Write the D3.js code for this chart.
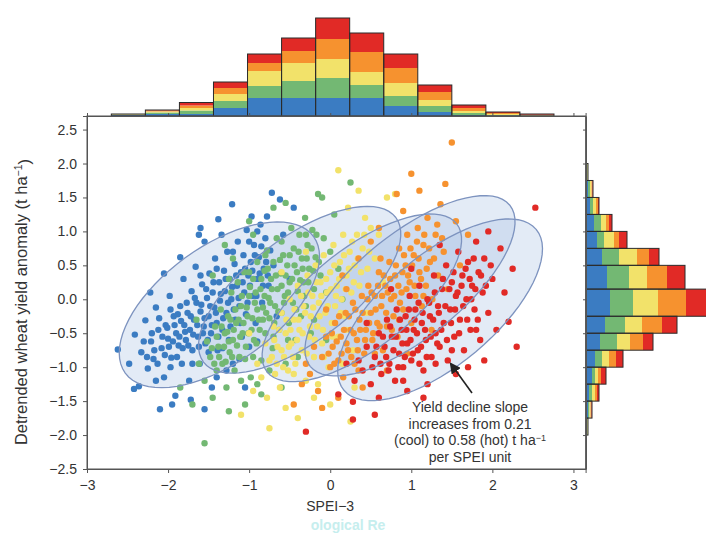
<!DOCTYPE html>
<html lang="en">
<head>
<meta charset="UTF-8">
<script src="https://d3js.org/d3.v7.min.js"></script>
<title>SPEI vs yield</title>
<style>
  body { margin: 0; background: #fff; }
  svg text { font-family: "Liberation Sans", Arial, sans-serif; fill: #333; }
  .axis path, .axis line { stroke: #555; }
  .axis text { font-size: 14px; fill: #333; }
</style>
</head>
<body>
<div id="container"></div>
<script>
// ---- data ----
const xTicks = [-3, -2, -1, 0, 1, 2, 3];
const yTicks = [-2.5, -2, -1.5, -1, -0.5, 0, 0.5, 1, 1.5, 2, 2.5];
const groupKeys = ["blue", "green", "yellow", "orange", "red"];
const groupColors = ["#3b7cc2", "#73b873", "#f2e26a", "#f6922f", "#e12a26"];

// top histogram (SPEI bins), counts per group: blue, green, yellow, orange, red
const topEdges = [-2.7, -2.28, -1.86, -1.44, -1.02, -0.6, -0.18, 0.24, 0.66, 1.08, 1.5, 1.92, 2.34, 2.76];
const topCounts = [
  [1, 0.5, 0.3, 0.2, 0], [2, 1.5, 1, 1, 0.5], [2, 3.5, 2.5, 2.5, 3], [8, 7, 7, 6, 6],
  [18, 12, 15, 8, 9], [18, 17, 18, 12, 13], [18, 20, 19, 20, 21], [18, 13, 13, 20, 19],
  [10, 10, 13, 15, 14], [4, 6, 6, 8, 7], [1, 2, 2, 3, 3], [0.5, 0.5, 1, 1, 1], [0, 0.3, 0.5, 0.5, 0.7]
];

// right histogram (yield bins, top to bottom)
const rightEdges = [2.0, 1.75, 1.5, 1.25, 1.0, 0.75, 0.5, 0.15, -0.25, -0.5, -0.75, -1.0, -1.25, -1.5, -1.75, -2.0];
const rightCounts = [
  [1, 0.5, 0.5, 0, 0], [2, 2, 1.5, 1, 0.5], [4, 3, 3, 2, 1], [8, 7, 5, 3, 3], [11, 7, 10, 5, 8],
  [16, 17, 18, 12, 10], [21, 22, 18, 20, 18], [24, 23, 25, 28, 22], [19, 20, 17, 20, 15],
  [14, 17, 13, 13, 10], [9, 7, 7, 7, 7], [6, 3, 3, 3, 5], [3, 3, 3, 2, 2], [2, 1.5, 1, 1, 0.5], [1, 0.5, 0.5, 0, 0]
];

// confidence ellipses: centre (SPEI, yield), major half-axis vector, minor half-axis vector
const ellipses = [
  { c: [-1.367, -0.081], a: [1.161, 1.006], b: [0.422, -0.692] },
  { c: [-0.377, 0.140], a: [1.186, 1.065], b: [0.387, -0.612] },
  { c: [0.390, 0.022], a: [1.170, 1.090], b: [0.381, -0.581] },
  { c: [0.984, 0.199], a: [1.231, 1.187], b: [0.405, -0.596] },
  { c: [1.355, -0.155], a: [1.185, 1.186], b: [0.438, -0.621] }
];

// scatter points [SPEI, yield anomaly]
const bluePts = [[-2.62,-0.74],[-2.48,-0.95],[-2.41,-0.52],[-2.36,-1.28],[-2.33,-0.78],[-2.28,-0.31],[-2.25,-1.02],[-2.21,-0.62],[-2.18,-0.88],[-2.15,-0.12],[-2.12,-0.45],[-2.1,-1.62],[-2.08,-0.72],[-2.05,-1.15],[-2.03,-0.38],[-2.0,-0.58],[-1.98,0.05],[-1.96,-0.86],[-1.93,-0.25],[-1.91,-1.42],[-1.9,-0.5],[-1.87,-0.68],[-1.85,-0.1],[-1.83,-0.95],[-1.81,0.3],[-1.8,-0.38],[-1.78,-0.6],[-1.76,-0.2],[-1.74,-1.2],[-1.73,-0.45],[-1.71,0.12],[-1.7,-0.75],[-1.68,-0.3],[-1.66,0.48],[-1.65,-0.05],[-1.63,-0.55],[-1.61,-0.95],[-1.6,-0.18],[-1.58,0.22],[-1.56,-0.4],[-1.55,0.85],[-1.54,-0.65],[-1.52,0.02],[-1.5,-0.25],[-1.49,0.38],[-1.47,-0.5],[-1.46,-1.3],[-1.45,0.1],[-1.43,-0.12],[-1.42,0.6],[-1.4,-0.35],[-1.39,-0.75],[-1.37,0.25],[-1.36,-0.02],[-1.34,0.95],[-1.33,-0.45],[-1.31,0.42],[-1.3,0.12],[-1.28,-0.2],[-1.27,0.7],[-1.25,-0.6],[-1.24,0.3],[-1.22,0.0],[-1.21,1.4],[-1.2,-0.95],[-1.18,0.52],[-1.17,-0.3],[-1.15,0.2],[-1.14,0.85],[-1.12,-0.1],[-1.1,0.4],[-1.09,-0.55],[-1.07,0.65],[-1.06,0.1],[-1.04,-0.22],[-1.03,1.02],[-1.01,0.35],[-1.0,-0.7],[-0.98,0.55],[-0.97,1.22],[-0.95,0.05],[-0.94,0.8],[-0.92,-0.35],[-0.9,0.3],[-0.88,0.62],[-0.86,1.1],[-0.84,-0.05],[-0.82,0.45],[-0.8,0.9],[-0.78,1.22],[-0.76,0.2],[-0.74,0.72],[-0.72,1.57],[-0.7,0.5],[-0.66,-0.25],[-0.62,1.47],[-0.58,0.95],[-0.5,0.3],[-0.45,1.35],[-1.85,0.62],[-2.05,0.38],[-1.62,0.95],[-1.95,-1.55],[-1.72,-1.48],[-1.55,-1.62],[-2.42,-1.32],[-1.28,-1.05],[-1.12,-0.88],[-0.9,-0.62],[-2.22,0.1],[-1.4,-1.15],[-1.6,1.05],[-1.38,1.18],[-1.05,-1.3],
  [-2.3,-0.62],[-2.26,-0.85],[-2.2,-0.5],[-2.17,-0.75],[-2.13,-0.95],[-2.11,-0.28],[-2.07,-0.55],[-2.04,-0.82],[-2.01,-0.42],[-1.99,-0.7],[-1.97,-0.15],[-1.94,-0.62],[-1.92,-0.38],[-1.89,-0.85],[-1.88,-0.22],[-1.86,-0.55],[-1.84,-0.32],[-1.82,-0.72],[-1.79,-0.48],[-1.77,-0.05],[-1.75,-0.68],[-1.72,-0.25],[-1.69,-0.52],[-1.67,0.02],[-1.64,-0.38],[-1.62,-0.7],[-1.59,-0.08],[-1.57,-0.5],[-1.55,-0.28],[-1.53,0.15],[-1.51,-0.6],[-1.48,-0.1],[-1.46,-0.38],[-1.44,0.25],[-1.41,-0.2],[-1.38,-0.55],[-1.35,0.08],[-1.32,-0.28],[-1.29,0.3],[-1.26,-0.05],[-1.23,-0.4],[-1.21,0.18],[-1.19,-0.15],[-1.16,0.35],[-1.13,0.02],[-1.11,-0.35],[-1.08,0.25],[-1.05,0.45],[-1.02,-0.05],[-0.99,0.2],[-0.96,0.42],[-0.93,0.65],[-0.91,0.05],[-0.87,0.38],[-0.85,0.78],[-0.83,0.2],[-0.79,0.55],[-0.77,0.35],[-1.7,-0.95],[-1.5,-0.78],[-1.33,-0.72],[-1.97,-1.0],[-2.15,-1.2],[-1.2,0.7],[-1.4,0.45],[-1.6,0.35],[-1.0,0.85],[-0.9,1.0]];
const greenPts = [[-1.62,-0.95],[-1.55,-1.2],[-1.52,-0.62],[-1.48,-0.85],[-1.45,-1.45],[-1.42,-0.4],[-1.4,-1.05],[-1.38,-0.7],[-1.35,-0.15],[-1.33,-0.95],[-1.3,-0.5],[-1.28,-1.3],[-1.26,-0.25],[-1.24,-0.78],[-1.22,0.1],[-1.2,-0.6],[-1.18,-1.05],[-1.16,-0.35],[-1.14,0.25],[-1.12,-0.85],[-1.1,-0.1],[-1.08,-0.5],[-1.06,0.4],[-1.04,-0.7],[-1.02,-0.25],[-1.0,0.05],[-0.98,-1.15],[-0.97,-0.45],[-0.95,0.3],[-0.93,-0.05],[-0.91,-0.65],[-0.9,0.55],[-0.88,-0.3],[-0.86,0.15],[-0.85,-0.9],[-0.83,-0.12],[-0.81,0.42],[-0.8,-0.5],[-0.78,0.72],[-0.76,0.02],[-0.75,-0.28],[-0.73,0.3],[-0.71,-0.72],[-0.7,0.55],[-0.68,-0.1],[-0.66,0.9],[-0.65,0.15],[-0.63,-0.45],[-0.61,0.38],[-0.6,-0.2],[-0.58,0.65],[-0.56,0.05],[-0.55,-0.95],[-0.53,0.5],[-0.51,-0.35],[-0.5,0.25],[-0.48,1.05],[-0.46,-0.05],[-0.45,0.75],[-0.43,-0.6],[-0.41,0.4],[-0.4,0.12],[-0.38,0.95],[-0.36,-0.25],[-0.35,0.6],[-0.33,0.25],[-0.31,1.2],[-0.3,-0.1],[-0.28,0.8],[-0.26,0.45],[-0.24,-0.5],[-0.22,1.02],[-0.2,0.15],[-0.18,0.62],[-0.15,1.55],[-0.12,0.35],[-0.1,1.5],[-0.08,0.9],[-0.05,0.1],[0.0,0.7],[0.05,1.25],[0.1,0.45],[0.25,1.72],[-1.55,-2.12],[-1.25,-1.65],[-1.05,-1.55],[-0.85,-1.4],[-0.6,-1.3],[-1.7,-1.55],[-1.85,-1.3],[-1.45,0.35],[-1.2,0.6],[-0.95,0.95],[-0.7,1.35],[-0.55,1.42],[-1.65,-0.3],[-0.4,-0.85],[-0.2,-0.3],[-0.05,-0.6],[0.15,0.0],[-1.3,0.8],[-1.0,1.15],[-0.75,-1.05],[-0.9,-1.25],
  [-1.46,-0.72],[-1.43,-0.95],[-1.4,-0.55],[-1.37,-0.85],[-1.34,-0.4],[-1.31,-0.7],[-1.29,-0.92],[-1.27,-0.48],[-1.25,-0.62],[-1.23,-0.3],[-1.21,-0.85],[-1.19,-0.45],[-1.17,-0.15],[-1.15,-0.68],[-1.13,-0.3],[-1.11,-0.55],[-1.09,0.05],[-1.07,-0.35],[-1.05,-0.88],[-1.03,-0.12],[-1.01,-0.5],[-0.99,0.18],[-0.96,-0.28],[-0.94,-0.6],[-0.92,0.1],[-0.9,-0.15],[-0.87,-0.45],[-0.85,0.3],[-0.83,-0.3],[-0.81,0.05],[-0.79,-0.2],[-0.77,0.45],[-0.74,-0.05],[-0.72,0.15],[-0.69,-0.35],[-0.67,0.35],[-0.64,-0.18],[-0.62,0.58],[-0.6,0.2],[-0.57,-0.05],[-0.55,0.35],[-0.52,0.1],[-0.5,0.65],[-0.47,0.3],[-0.44,0.5],[-0.42,-0.15],[-0.39,0.7],[-0.37,0.28],[-0.34,0.45],[-0.32,0.05],[-0.29,0.6],[-0.27,0.25],[-0.23,0.75],[-0.21,0.42],[-0.17,0.95],[-0.14,0.55],[-0.95,-0.85],[-1.1,-1.2],[-0.7,-0.55],[-0.52,-0.6],[-0.3,0.95],[-0.6,0.85],[-0.8,0.65],[-1.0,0.4],[-1.25,0.3]];
const yellowPts = [[-0.95,-1.35],[-0.9,-0.95],[-0.85,-1.15],[-0.8,-0.65],[-0.78,-1.45],[-0.75,-0.9],[-0.7,-0.4],[-0.68,-1.1],[-0.65,-0.7],[-0.62,-1.3],[-0.6,-0.2],[-0.57,-0.85],[-0.55,-0.5],[-0.52,-1.05],[-0.5,0.0],[-0.48,-0.65],[-0.45,-0.3],[-0.43,-0.95],[-0.4,0.2],[-0.38,-0.45],[-0.35,-0.75],[-0.33,-0.1],[-0.3,-1.2],[-0.28,0.35],[-0.26,-0.55],[-0.24,-0.25],[-0.22,0.05],[-0.2,-0.85],[-0.18,0.5],[-0.16,-0.4],[-0.14,-0.05],[-0.12,0.25],[-0.1,-0.65],[-0.08,0.65],[-0.06,-0.2],[-0.04,0.1],[-0.02,-1.0],[0.0,0.4],[0.02,-0.35],[0.04,0.8],[0.06,-0.1],[0.08,0.2],[0.1,-0.55],[0.12,0.55],[0.14,0.0],[0.16,0.95],[0.18,-0.25],[0.2,0.35],[0.22,1.35],[0.24,0.7],[0.26,0.1],[0.28,-0.75],[0.3,0.5],[0.33,0.95],[0.36,0.2],[0.4,0.75],[0.43,1.2],[0.46,0.45],[0.5,1.05],[0.55,0.6],[0.6,0.95],[0.1,1.9],[0.7,1.5],[-0.4,-1.75],[-0.75,-1.9],[0.25,-1.8],[0.0,-1.55],[-0.2,-1.45],[-0.55,-1.6],[0.3,-1.3],[-1.1,-1.7],[-1.0,-0.5],[0.45,-0.2],[0.65,0.25],[-0.3,0.7],[-0.6,0.4],[0.8,1.55],[0.35,1.6],[-0.15,-1.25],[0.15,-0.95],
  [-0.72,-0.85],[-0.69,-0.6],[-0.66,-0.95],[-0.63,-0.45],[-0.6,-0.75],[-0.58,-1.0],[-0.54,-0.3],[-0.51,-0.7],[-0.49,-0.45],[-0.46,-0.85],[-0.44,-0.15],[-0.41,-0.6],[-0.39,-0.3],[-0.36,0.05],[-0.34,-0.5],[-0.31,-0.2],[-0.29,-0.8],[-0.27,0.1],[-0.25,-0.4],[-0.21,-0.12],[-0.19,-0.6],[-0.17,0.25],[-0.13,-0.25],[-0.11,0.05],[-0.09,-0.45],[-0.05,0.3],[-0.03,-0.1],[0.01,0.15],[0.03,-0.55],[0.05,0.5],[0.07,0.05],[0.11,0.3],[0.13,-0.2],[0.17,0.65],[0.19,0.15],[0.23,0.45],[0.27,0.85],[0.29,0.25],[0.34,0.6],[0.38,0.4],[0.42,0.95],[0.48,0.7],[-0.08,-0.85],[-0.45,-1.1],[0.2,-0.45]];
const orangePts = [[-0.35,-1.25],[-0.3,-0.95],[-0.25,-1.1],[-0.2,-0.7],[-0.15,-1.35],[-0.1,-0.85],[-0.05,-0.55],[0.0,-1.0],[0.03,-0.7],[0.06,-0.35],[0.1,-0.9],[0.13,-0.55],[0.16,-1.15],[0.19,-0.2],[0.22,-0.75],[0.25,-0.45],[0.28,-0.05],[0.3,-0.95],[0.33,-0.6],[0.36,-0.3],[0.39,0.05],[0.42,-0.8],[0.44,-0.45],[0.47,0.2],[0.5,-0.2],[0.52,-0.6],[0.55,0.05],[0.58,-0.35],[0.6,0.4],[0.63,-0.1],[0.65,-0.75],[0.68,0.2],[0.7,-0.4],[0.73,0.55],[0.75,0.0],[0.78,-0.25],[0.8,0.35],[0.83,-0.55],[0.85,0.75],[0.88,0.1],[0.9,-0.15],[0.93,0.5],[0.95,0.95],[0.98,0.25],[1.0,-0.35],[1.03,0.65],[1.05,0.05],[1.08,1.05],[1.1,0.4],[1.13,-0.1],[1.15,0.8],[1.18,0.2],[1.2,1.2],[1.23,0.55],[1.26,0.0],[1.3,0.95],[1.33,0.35],[1.36,1.4],[1.4,0.7],[1.45,0.15],[1.5,2.31],[1.55,1.15],[1.6,0.5],[1.7,0.95],[0.9,1.3],[0.6,1.05],[1.1,1.6],[0.35,0.6],[0.15,0.35],[-0.1,-1.6],[0.1,-1.45],[0.4,-1.3],[-0.45,-1.55],[0.5,0.85],[1.25,-0.45],[0.7,-1.05],[0.95,-0.8],[0.2,0.15],[-0.05,-0.15],[0.82,1.55],[1.42,1.7],[1.0,1.85],
  [-0.02,-0.8],[0.02,-0.5],[0.05,-0.95],[0.08,-0.62],[0.11,-0.25],[0.14,-0.8],[0.17,-0.45],[0.2,-0.65],[0.23,-0.25],[0.26,-0.85],[0.29,-0.5],[0.31,-0.15],[0.34,-0.75],[0.37,-0.45],[0.4,-0.2],[0.43,-0.6],[0.46,0.0],[0.48,-0.35],[0.51,0.1],[0.53,-0.5],[0.56,-0.15],[0.59,0.2],[0.61,-0.4],[0.64,0.05],[0.66,0.35],[0.69,-0.2],[0.71,0.1],[0.74,0.3],[0.76,-0.45],[0.79,0.05],[0.81,0.5],[0.84,0.2],[0.86,-0.05],[0.89,0.4],[0.91,0.65],[0.94,0.15],[0.96,0.35],[0.99,0.75],[1.01,0.5],[1.04,0.2],[1.07,0.85],[1.09,0.6],[1.12,0.3],[1.16,0.95],[1.19,0.45],[1.22,0.75],[1.28,0.6],[1.32,1.1],[1.38,0.9],[0.55,-0.8],[0.35,-1.05],[0.85,-0.3],[1.15,0.05],[0.62,0.6]];
const redPts = [[0.3,-1.2],[0.35,-0.9],[0.4,-1.05],[0.45,-0.7],[0.5,-1.25],[0.55,-0.85],[0.6,-0.5],[0.63,-1.1],[0.67,-0.7],[0.7,-0.3],[0.73,-0.95],[0.76,-0.55],[0.8,-1.2],[0.82,-0.15],[0.85,-0.8],[0.88,-0.45],[0.9,-1.0],[0.93,-0.25],[0.95,-0.65],[0.98,0.05],[1.0,-0.9],[1.03,-0.45],[1.05,-0.15],[1.08,-0.75],[1.1,0.2],[1.13,-0.35],[1.15,-1.05],[1.18,-0.6],[1.2,0.0],[1.23,-0.25],[1.25,-0.85],[1.28,0.35],[1.3,-0.5],[1.33,-0.1],[1.35,-0.7],[1.38,0.15],[1.4,-0.35],[1.43,0.5],[1.45,-0.9],[1.48,-0.15],[1.5,0.25],[1.53,-0.55],[1.55,0.05],[1.58,0.7],[1.6,-0.3],[1.63,0.35],[1.65,-0.75],[1.68,0.0],[1.7,0.55],[1.73,-0.45],[1.75,0.2],[1.78,-0.15],[1.8,0.85],[1.83,0.4],[1.85,-0.6],[1.88,0.1],[1.9,0.6],[1.95,-0.2],[2.0,0.3],[2.05,-0.45],[2.1,0.75],[2.2,-0.33],[2.15,0.1],[2.53,1.35],[1.95,1.0],[2.25,0.45],[0.28,-1.51],[0.28,-1.77],[0.6,-1.45],[0.95,-1.35],[1.2,-1.25],[0.2,-0.95],[0.45,-0.35],[0.75,0.15],[1.0,0.45],[1.15,-1.45],[1.55,-1.1],[1.35,0.8],[1.7,-1.0],[0.1,-1.4],[-0.3,-1.95],[0.55,-1.7],[1.9,-0.9],[2.3,-0.7],
  [0.52,-1.0],[0.57,-0.7],[0.62,-0.95],[0.65,-0.55],[0.69,-0.85],[0.72,-1.05],[0.74,-0.4],[0.78,-0.75],[0.81,-0.55],[0.84,-1.0],[0.86,-0.3],[0.89,-0.65],[0.92,-0.85],[0.94,-0.45],[0.97,-0.15],[0.99,-0.6],[1.02,-0.8],[1.04,-0.3],[1.07,-0.5],[1.09,-0.05],[1.12,-0.7],[1.14,-0.2],[1.17,-0.45],[1.19,-0.85],[1.22,-0.05],[1.24,-0.55],[1.27,-0.3],[1.29,0.1],[1.32,-0.65],[1.34,-0.2],[1.37,-0.45],[1.39,0.3],[1.42,-0.1],[1.44,-0.6],[1.47,0.15],[1.49,-0.35],[1.52,0.4],[1.54,-0.15],[1.57,0.1],[1.59,-0.5],[1.62,0.2],[1.64,-0.1],[1.67,0.45],[1.69,-0.3],[1.72,0.3],[1.74,0.0],[1.77,0.6],[1.79,0.15],[1.82,-0.3],[1.86,0.35],[1.92,0.2],[1.98,0.5],[0.9,-1.2],[1.1,-0.95],[1.3,-0.95],[1.5,-0.75],[1.8,-0.45]];
const pointGroups = [bluePts, greenPts, yellowPts, orangePts, redPts];

const noteLines = ["Yield decline slope", "increases from 0.21", "(cool) to 0.58 (hot) t ha", "per SPEI unit"];

// ---- layout ----
const W = 706, H = 533;
const svg = d3.select("#container").append("svg")
  .attr("width", W).attr("height", H);

const x = d3.scaleLinear().domain([-3, 3.15]).range([87, 585.6]);
const y = d3.scaleLinear().domain([-2.5, 2.7]).range([469, 116]);
const hTop = d3.scaleLinear().domain([0, 100]).range([116, 16]);
const hRight = d3.scaleLinear().domain([0, 100]).range([586, 686]);

// faint watermark
svg.append("text")
  .attr("x", 348).attr("y", 529.5)
  .attr("text-anchor", "middle")
  .style("font-size", "14px").style("font-weight", "bold")
  .style("fill", "#c6eeee")
  .text("ological Re");

// ---- top histogram ----
const stack = d3.stack().keys(groupKeys);
const topTable = topCounts.map((c, i) => {
  const row = { x0: topEdges[i], x1: topEdges[i + 1] };
  groupKeys.forEach((k, j) => row[k] = c[j]);
  return row;
});
const topSeries = stack(topTable);
const gTop = svg.append("g");
topSeries.forEach((s, j) => {
  gTop.selectAll(null).data(s).enter().append("rect")
    .attr("x", d => x(d.data.x0))
    .attr("width", d => x(d.data.x1) - x(d.data.x0))
    .attr("y", d => hTop(d[1]))
    .attr("height", d => hTop(d[0]) - hTop(d[1]))
    .attr("fill", groupColors[j]);
});
gTop.selectAll(".outline").data(topTable).enter().append("rect")
  .attr("x", d => x(d.x0))
  .attr("width", d => x(d.x1) - x(d.x0))
  .attr("y", d => hTop(d3.sum(groupKeys, k => d[k])))
  .attr("height", d => hTop(0) - hTop(d3.sum(groupKeys, k => d[k])))
  .attr("fill", "none").attr("stroke", "#2b2b2b").attr("stroke-width", 1);

// ---- right histogram ----
const rightTable = rightCounts.map((c, i) => {
  const row = { y0: rightEdges[i], y1: rightEdges[i + 1] };
  groupKeys.forEach((k, j) => row[k] = c[j]);
  return row;
});
const rightSeries = stack(rightTable);
const gRight = svg.append("g");
rightSeries.forEach((s, j) => {
  gRight.selectAll(null).data(s).enter().append("rect")
    .attr("y", d => y(d.data.y0))
    .attr("height", d => y(d.data.y1) - y(d.data.y0))
    .attr("x", d => hRight(d[0]))
    .attr("width", d => hRight(d[1]) - hRight(d[0]))
    .attr("fill", groupColors[j]);
});
gRight.selectAll(".outline").data(rightTable).enter().append("rect")
  .attr("y", d => y(d.y0))
  .attr("height", d => y(d.y1) - y(d.y0))
  .attr("x", hRight(0))
  .attr("width", d => hRight(d3.sum(groupKeys, k => d[k])) - hRight(0))
  .attr("fill", "none").attr("stroke", "#2b2b2b").attr("stroke-width", 1);

// ---- ellipses (fill under points) ----
const tSteps = d3.range(0, 73).map(i => i * 2 * Math.PI / 72);
const ellipsePts = e => tSteps.map(t => [
  e.c[0] + Math.cos(t) * e.a[0] + Math.sin(t) * e.b[0],
  e.c[1] + Math.cos(t) * e.a[1] + Math.sin(t) * e.b[1]
]);
const ellLine = d3.line().x(d => x(d[0])).y(d => y(d[1])).curve(d3.curveLinearClosed);

svg.append("g").selectAll("path").data(ellipses).enter().append("path")
  .attr("d", e => ellLine(ellipsePts(e)))
  .attr("fill", "#a9c0e4").attr("fill-opacity", 0.32);

// ---- points ----
pointGroups.forEach((pts, j) => {
  svg.append("g").selectAll("circle").data(pts).enter().append("circle")
    .attr("cx", d => x(d[0]))
    .attr("cy", d => y(d[1]))
    .attr("r", 3.2)
    .attr("fill", groupColors[j]);
});

// ellipse outlines over points
svg.append("g").selectAll("path").data(ellipses).enter().append("path")
  .attr("d", e => ellLine(ellipsePts(e)))
  .attr("fill", "none")
  .attr("stroke", "#7d93bf").attr("stroke-width", 1.3);

// ---- frame & axes ----
svg.append("rect")
  .attr("x", x(-3)).attr("y", y(2.7))
  .attr("width", x(3.15) - x(-3)).attr("height", y(-2.5) - y(2.7))
  .attr("fill", "none").attr("stroke", "#555");

svg.append("g").attr("class", "axis")
  .attr("transform", `translate(0,${y(-2.5)})`)
  .call(d3.axisBottom(x).tickValues(xTicks).tickFormat(d3.format("d")).tickSize(4).tickPadding(7));

svg.append("g").attr("class", "axis")
  .attr("transform", `translate(${x(-3)},0)`)
  .call(d3.axisLeft(y).tickValues(yTicks).tickFormat(d3.format(".1f")).tickSize(4).tickPadding(6));

svg.append("g").attr("class", "axis")
  .attr("transform", `translate(0,${y(2.7)})`)
  .call(d3.axisTop(x).tickValues(xTicks).tickFormat("").tickSize(3));

svg.append("g").attr("class", "axis")
  .attr("transform", `translate(${hRight(0)},0)`)
  .call(d3.axisLeft(y).tickValues(yTicks).tickFormat("").tickSize(3));

// axis titles
svg.append("text")
  .attr("x", x(0)).attr("y", 511)
  .attr("text-anchor", "middle")
  .style("font-size", "14px")
  .text("SPEI\u22123");

const yl = svg.append("text")
  .attr("transform", "translate(27,302) rotate(-90)")
  .attr("text-anchor", "middle")
  .style("font-size", "16.5px")
  .text("Detrended wheat yield anomaly (t ha");
yl.append("tspan").attr("dy", "-0.45em").style("font-size", "10.5px").text("\u22121");
yl.append("tspan").attr("dy", "0.45em").text(")");

// ---- annotation ----
const note = svg.append("g");
noteLines.forEach((line, i) => {
  const t = note.append("text")
    .attr("x", 470).attr("y", 412 + i * 16.5)
    .attr("text-anchor", "middle")
    .style("font-size", "14px")
    .text(line);
  if (i === 2) t.append("tspan").attr("dy", "-0.45em").style("font-size", "9px").text("\u22121");
});

svg.append("defs").append("marker")
  .attr("id", "arrow").attr("viewBox", "0 0 10 10")
  .attr("refX", 8).attr("refY", 5)
  .attr("markerWidth", 7).attr("markerHeight", 7)
  .attr("orient", "auto")
  .append("path").attr("d", "M0,0 L10,5 L0,10 z").attr("fill", "#222");

svg.append("line")
  .attr("x1", 472).attr("y1", 393)
  .attr("x2", 451).attr("y2", 364)
  .attr("stroke", "#222").attr("stroke-width", 1.6)
  .attr("marker-end", "url(#arrow)");
</script>
</body>
</html>
